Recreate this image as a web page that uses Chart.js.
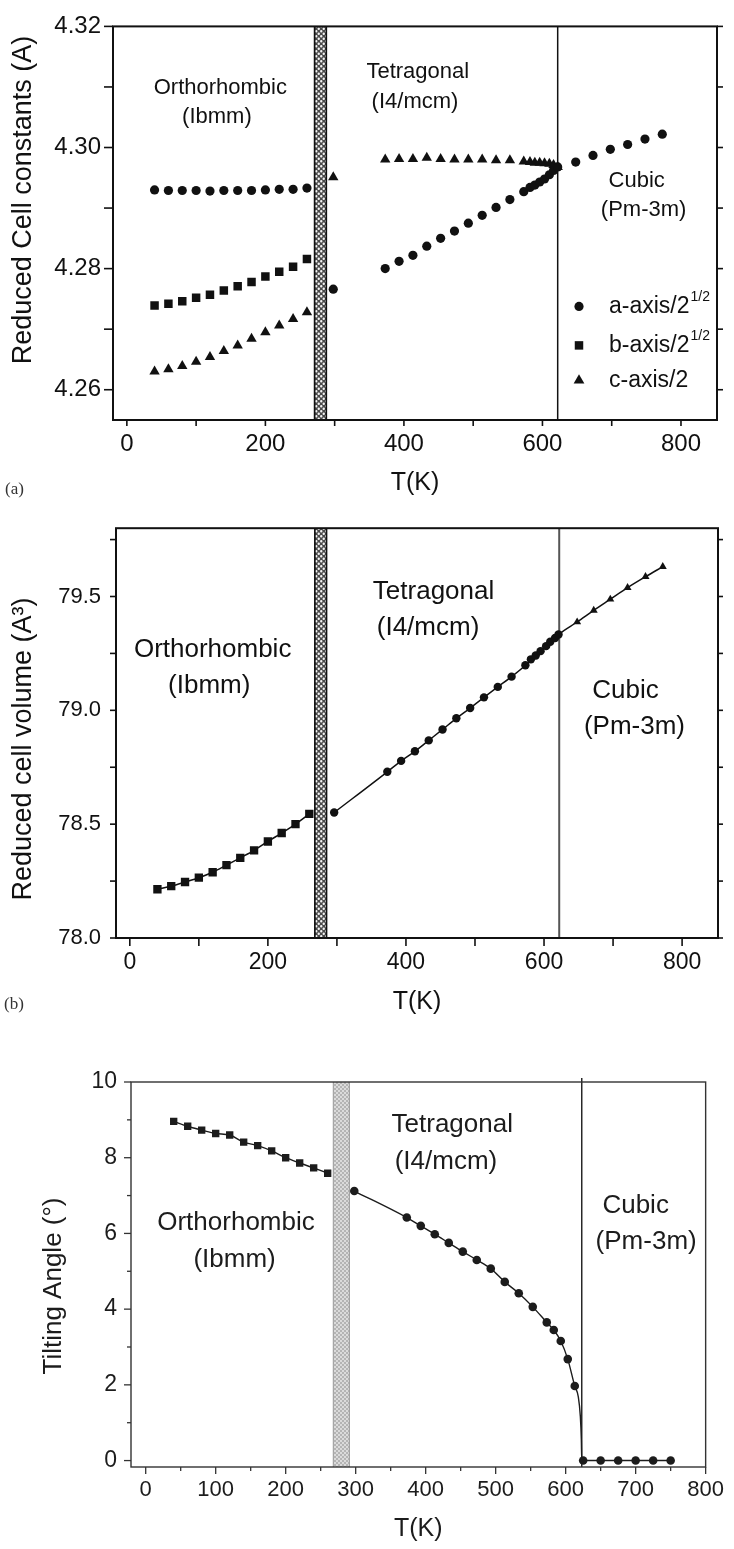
<!DOCTYPE html>
<html>
<head>
<meta charset="utf-8">
<title>Cell constants, volume and tilt angle vs T</title>
<script src="https://cdn.jsdelivr.net/npm/chart.js@4.4.1/dist/chart.umd.min.js"></script>
<style>
  body { margin: 0; background: #fff; }
  .panel { position: absolute; left: 0; }
</style>
</head>
<body>
<canvas id="cellChart" class="panel" width="734" height="500" style="top:0"></canvas>
<canvas id="volChart" class="panel" width="734" height="520" style="top:500px"></canvas>
<canvas id="tiltChart" class="panel" width="734" height="529" style="top:1020px"></canvas>
<script>
// temperatures (K)
const orthoT = [40, 60, 80, 100, 120, 140, 160, 180, 200, 220, 240, 260];
const roomT = [298];
const tetraT = [373, 393, 413, 433, 453, 473, 493, 513, 533, 553, 573, 582, 589, 596, 603, 610, 616, 622];
const cubicT = [648, 673, 698, 723, 748, 773];

// (a) reduced cell constants
const aOrtho = [4.2930, 4.2929, 4.2929, 4.2929, 4.2928, 4.2929, 4.2929, 4.2929, 4.2930, 4.2931, 4.2931, 4.2933];
const bOrtho = [4.2739, 4.2742, 4.2746, 4.2752, 4.2757, 4.2764, 4.2771, 4.2778, 4.2787, 4.2795, 4.2803, 4.2816];
const cOrtho = [4.2630, 4.2634, 4.2639, 4.2646, 4.2654, 4.2664, 4.2673, 4.2684, 4.2695, 4.2706, 4.2717, 4.2728];
const aRoom = [4.2766];
const cRoom = [4.2951];
const aTetra = [4.2800, 4.2812, 4.2822, 4.2837, 4.2850, 4.2862, 4.2875, 4.2888, 4.2901, 4.2914, 4.2927, 4.2934, 4.2938, 4.2943, 4.2948, 4.2955, 4.2962, 4.2968];
const cTetra = [4.2980, 4.2981, 4.2981, 4.2983, 4.2981, 4.2980, 4.2980, 4.2980, 4.2979, 4.2979, 4.2977, 4.2976, 4.2975, 4.2975, 4.2974, 4.2973, 4.2971, 4.2968];
const aCubic = [4.2976, 4.2987, 4.2997, 4.3005, 4.3014, 4.3022];

// (b) reduced cell volume
const volOrtho = [78.214, 78.228, 78.246, 78.265, 78.289, 78.320, 78.352, 78.385, 78.424, 78.461, 78.500, 78.545];
const volTetraT = [296, 373, 393, 413, 433, 453, 473, 493, 513, 533, 553, 573, 581, 588, 595, 603, 609, 616, 621];
const volTetra = [78.551, 78.730, 78.778, 78.820, 78.868, 78.916, 78.965, 79.010, 79.057, 79.103, 79.148, 79.198, 79.224, 79.241, 79.260, 79.282, 79.301, 79.318, 79.333];
const volCubicT = [648, 672, 696, 721, 747, 772];
const volCubic = [79.388, 79.439, 79.488, 79.539, 79.587, 79.631];

// (c) tilting angle
const tiltOrtho = [8.96, 8.83, 8.73, 8.64, 8.60, 8.41, 8.32, 8.18, 8.00, 7.86, 7.73, 7.59];
const tiltTetraT = [298, 373, 393, 413, 433, 453, 473, 493, 513, 533, 553, 573, 583, 593, 603, 613];
const tiltTetra = [7.12, 6.42, 6.20, 5.98, 5.75, 5.52, 5.30, 5.07, 4.72, 4.42, 4.06, 3.65, 3.45, 3.16, 2.68, 1.97];
const tiltCubicT = [625, 650, 675, 700, 725, 750];
const tiltCubic = [0, 0, 0, 0, 0, 0];
// fitted curve where it drops to zero at Tc
const tiltTailT = [618, 621, 622.4, 623];
const tiltTail = [1.69, 1.16, 0.55, 0];

// phase boundaries: two-phase band and cubic transition
const bandA = [271, 288], bandB = [268, 285], bandC = [268, 291];
const tcA = 622, tcB = 622, tcC = 623;

// ticks
const tTicks = [0, 200, 400, 600, 800], tMinor = [100, 300, 500, 700];
const tTicksC = [0, 100, 200, 300, 400, 500, 600, 700, 800];
const tMinorC = [50, 150, 250, 350, 450, 550, 650, 750];
const cellTicks = [4.26, 4.28, 4.30, 4.32], cellMinor = [4.27, 4.29, 4.31];
const volTicks = [78.0, 78.5, 79.0, 79.5], volMinor = [78.25, 78.75, 79.25, 79.75];
const tiltTicks = [0, 2, 4, 6, 8, 10], tiltMinor = [1, 3, 5, 7, 9];

const phaseNames = ['Orthorhombic', '(Ibmm)', 'Tetragonal', '(I4/mcm)', 'Cubic', '(Pm-3m)'];
const cellNames = ['a-axis/2', 'b-axis/2', 'c-axis/2'];
const cellSup = ['1/2', '1/2', ''];

const SANS = "'Liberation Sans', Arial, Helvetica, sans-serif";
Chart.defaults.font.family = SANS;
Chart.defaults.color = '#111';
Chart.defaults.animation = false;
Chart.defaults.events = [];
Chart.defaults.plugins.legend.display = false;
Chart.defaults.plugins.tooltip.enabled = false;

const pts = (xs, ys) => xs.map((x, i) => ({x, y: ys[i]}));

function marks(xs, ys, style, r, color) {
  return {
    data: pts(xs, ys), showLine: false, pointStyle: style, pointRadius: r,
    backgroundColor: color || '#111', borderColor: color || '#111', borderWidth: 0
  };
}

function curve(xs, ys, width, color) {
  return {
    data: pts(xs, ys), showLine: true, pointRadius: 0, borderWidth: width,
    borderColor: color || '#111', cubicInterpolationMode: 'monotone'
  };
}

function xAxis(min, max, major, h, size, pad, titleSize, titlePad, color) {
  return {
    type: 'linear', min, max,
    afterBuildTicks: s => { s.ticks = major.map(v => ({value: v})); },
    afterFit: s => { s.height = h; },
    grid: {display: false, drawTicks: false}, border: {display: false},
    ticks: {font: {size}, padding: pad, autoSkip: false, maxRotation: 0, color: color || '#111'},
    title: {display: true, text: 'T(K)', color: color || '#111', font: {size: titleSize}, padding: {top: 0, bottom: titlePad}}
  };
}

function yAxis(min, max, major, w, size, pad, fmt, color) {
  return {
    type: 'linear', min, max,
    afterBuildTicks: s => { s.ticks = major.map(v => ({value: v})); },
    afterFit: s => { s.width = w; },
    grid: {display: false, drawTicks: false}, border: {display: false},
    ticks: {font: {size}, padding: pad, autoSkip: false, color: color || '#111', callback: fmt}
  };
}

function dotTile(bg, dot, size, r) {
  const c = document.createElement('canvas');
  c.width = c.height = size;
  const g = c.getContext('2d');
  g.fillStyle = bg;
  g.fillRect(0, 0, size, size);
  g.fillStyle = dot;
  g.beginPath();
  g.arc(size * 0.25, size * 0.25, r, 0, Math.PI * 2);
  g.arc(size * 0.75, size * 0.75, r, 0, Math.PI * 2);
  g.fill();
  return c;
}

function marker(ctx, style, x, y, r) {
  ctx.beginPath();
  if (style === 'circle') {
    ctx.arc(x, y, r, 0, Math.PI * 2);
  } else if (style === 'rect') {
    const s = r * Math.SQRT1_2;
    ctx.rect(x - s, y - s, 2 * s, 2 * s);
  } else {
    ctx.moveTo(x, y - r);
    ctx.lineTo(x + r * 0.866, y + r / 2);
    ctx.lineTo(x - r * 0.866, y + r / 2);
    ctx.closePath();
  }
  ctx.fill();
}

const phasePlugin = {
  id: 'phase',
  beforeDatasetsDraw(chart, args, o) {
    if (!o.band) return;
    const {ctx, chartArea: a, scales: {x, y}} = chart;
    ctx.save();
    // two-phase region
    const b0 = x.getPixelForValue(o.band[0]), b1 = x.getPixelForValue(o.band[1]);
    ctx.fillStyle = ctx.createPattern(dotTile(o.bandFill, o.bandDot, o.tile, o.dotR), 'repeat');
    ctx.fillRect(b0, a.top, b1 - b0, a.bottom - a.top);
    ctx.strokeStyle = o.bandEdge;
    ctx.lineWidth = o.bandEdgeWidth;
    [b0, b1].forEach(p => {
      ctx.beginPath(); ctx.moveTo(p, a.top); ctx.lineTo(p, a.bottom); ctx.stroke();
    });
    // tetragonal -> cubic transition
    const tc = x.getPixelForValue(o.tc);
    ctx.strokeStyle = o.tcColor;
    ctx.lineWidth = o.tcWidth;
    ctx.beginPath(); ctx.moveTo(tc, a.top - (o.tcOver || 0)); ctx.lineTo(tc, a.bottom); ctx.stroke();
    // phase names
    ctx.fillStyle = o.textColor;
    ctx.font = o.labelFont;
    ctx.textAlign = 'center';
    ctx.textBaseline = 'middle';
    o.labels.forEach((p, i) => ctx.fillText(phaseNames[i], x.getPixelForValue(p[0]), y.getPixelForValue(p[1])));
    ctx.restore();
  },
  afterDatasetsDraw(chart, args, o) {
    if (!o.band) return;
    const {ctx, chartArea: a, scales: {x, y}} = chart;
    ctx.save();
    ctx.strokeStyle = o.frameColor;
    ctx.lineWidth = o.frameWidth;
    ctx.strokeRect(a.left, a.top, a.right - a.left, a.bottom - a.top);

    // outward tick marks
    ctx.lineWidth = o.tickWidth;
    const seg = (x0, y0, x1, y1) => { ctx.beginPath(); ctx.moveTo(x0, y0); ctx.lineTo(x1, y1); ctx.stroke(); };
    const [xMaj, xMin] = o.xTicks, [yMaj, yMin] = o.yTicks;
    xMaj.forEach(v => { const p = x.getPixelForValue(v); seg(p, a.bottom, p, a.bottom + o.xLen[0]); });
    xMin.forEach(v => { const p = x.getPixelForValue(v); seg(p, a.bottom, p, a.bottom + o.xLen[1]); });
    yMaj.forEach(v => {
      const p = y.getPixelForValue(v);
      seg(a.left - o.yLen[0], p, a.left, p);
      if (o.rightTicks) seg(a.right, p, a.right + o.rightTicks[0], p);
    });
    yMin.forEach(v => {
      const p = y.getPixelForValue(v);
      seg(a.left - o.yLen[1], p, a.left, p);
      if (o.rightTicks) seg(a.right, p, a.right + o.rightTicks[1], p);
    });

    // y-axis title
    ctx.fillStyle = o.textColor;
    ctx.font = o.yTitle.font;
    ctx.textAlign = 'center';
    ctx.textBaseline = 'middle';
    ctx.save();
    ctx.translate(o.yTitle.x, o.yTitle.y);
    ctx.rotate(-Math.PI / 2);
    ctx.fillText(o.yTitle.text, 0, 0);
    ctx.restore();

    // panel tag
    if (o.tag) {
      ctx.font = "17px 'Liberation Serif', 'Times New Roman', serif";
      ctx.fillStyle = '#333';
      ctx.textAlign = 'left';
      ctx.fillText(o.tag.text, o.tag.x, o.tag.y);
    }

    // legend
    if (o.legend) {
      const L = o.legend;
      ctx.fillStyle = '#111';
      L.styles.forEach((st, i) => {
        const yy = a.top + L.rows[i];
        marker(ctx, st, a.right + L.mx, yy, L.radii[i]);
        ctx.font = L.font;
        ctx.textAlign = 'left';
        ctx.fillText(cellNames[i], a.right + L.tx, yy);
        if (cellSup[i]) {
          const w = ctx.measureText(cellNames[i]).width;
          ctx.font = L.supFont;
          ctx.fillText(cellSup[i], a.right + L.tx + w + 1, yy - 9);
        }
      });
    }
    ctx.restore();
  }
};
Chart.register(phasePlugin);

// (a) reduced cell constants
new Chart(document.getElementById('cellChart'), {
  type: 'scatter',
  data: {
    datasets: [
      marks(orthoT, aOrtho, 'circle', 4.6),
      marks(orthoT, bOrtho, 'rect', 6),
      marks(orthoT, cOrtho, 'triangle', 6),
      marks(roomT, aRoom, 'circle', 4.6),
      marks(roomT, cRoom, 'triangle', 6),
      marks(tetraT, aTetra, 'circle', 4.6),
      marks(tetraT, cTetra, 'triangle', 6),
      marks(cubicT, aCubic, 'circle', 4.6)
    ]
  },
  options: {
    responsive: false,
    layout: {padding: {top: 18, right: 17, bottom: 0, left: 0}},
    scales: {
      x: xAxis(-20, 852, tTicks, 80, 24, 10, 25, 2),
      y: yAxis(4.255, 4.32, cellTicks, 113, 24, 12, v => v.toFixed(2))
    },
    plugins: {
      phase: {
        band: bandA, bandFill: '#4a4a4a', bandDot: '#f4f4f4', tile: 5, dotR: 1.2,
        bandEdge: '#111', bandEdgeWidth: 1.6,
        tc: tcA, tcColor: '#111', tcWidth: 1.5,
        textColor: '#111', labelFont: `22px ${SANS}`,
        labels: [[135, 4.3098], [130, 4.3051], [420, 4.3125], [416, 4.3076], [736, 4.2945], [746, 4.2897]],
        frameColor: '#111', frameWidth: 2, tickWidth: 1.6,
        xTicks: [tTicks, tMinor], xLen: [6, 6],
        yTicks: [cellTicks, cellMinor], yLen: [9, 9], rightTicks: [6, 6],
        yTitle: {text: 'Reduced Cell constants (A)', x: 24, y: 200, font: `27px ${SANS}`},
        tag: {text: '(a)', x: 5, y: 490},
        legend: {
          styles: ['circle', 'rect', 'triangle'], radii: [4.6, 6, 6.2],
          mx: -138, tx: -108, rows: [280, 319, 354],
          font: `23px ${SANS}`, supFont: `14px ${SANS}`
        }
      }
    }
  }
});

// (b) reduced cell volume
new Chart(document.getElementById('volChart'), {
  type: 'scatter',
  data: {
    datasets: [
      marks(orthoT, volOrtho, 'rect', 5.9),
      marks(volTetraT, volTetra, 'circle', 4.2),
      marks(volCubicT, volCubic, 'triangle', 4.6),
      curve(orthoT, volOrtho, 1.5),
      curve(volTetraT.concat(volCubicT), volTetra.concat(volCubic), 1.5)
    ]
  },
  options: {
    responsive: false,
    layout: {padding: {top: 21, right: 16, bottom: 0, left: 0}},
    scales: {
      x: xAxis(-20, 852, tTicks, 82, 23, 11, 25, 3),
      y: yAxis(78.0, 79.8, volTicks, 116, 22, 15, v => v.toFixed(1))
    },
    plugins: {
      phase: {
        band: bandB, bandFill: '#4a4a4a', bandDot: '#f4f4f4', tile: 5, dotR: 1.2,
        bandEdge: '#111', bandEdgeWidth: 1.6,
        tc: tcB, tcColor: '#555', tcWidth: 2,
        textColor: '#111', labelFont: `26px ${SANS}`,
        labels: [[120, 79.267], [115, 79.108], [440, 79.52], [432, 79.362], [718, 79.086], [731, 78.926]],
        frameColor: '#111', frameWidth: 2, tickWidth: 1.6,
        xTicks: [tTicks, tMinor], xLen: [8, 8],
        yTicks: [volTicks, volMinor], yLen: [6, 6], rightTicks: [5, 5],
        yTitle: {text: 'Reduced cell volume (A\u00b3)', x: 24, y: 249, font: `27px ${SANS}`},
        tag: {text: '(b)', x: 4, y: 505}
      }
    }
  }
});

// (c) tilting angle
const ink = '#1c1c1c';
new Chart(document.getElementById('tiltChart'), {
  type: 'scatter',
  data: {
    datasets: [
      marks(orthoT, tiltOrtho, 'rect', 5.2, ink),
      marks(tiltTetraT, tiltTetra, 'circle', 4.3, ink),
      marks(tiltCubicT, tiltCubic, 'circle', 4.3, ink),
      curve(orthoT, tiltOrtho, 1.4, ink),
      curve(tiltTetraT.concat(tiltTailT, tiltCubicT), tiltTetra.concat(tiltTail, tiltCubic), 1.4, ink)
    ]
  },
  options: {
    responsive: false,
    layout: {padding: {top: 62, right: 21, bottom: 0, left: 0}},
    scales: {
      x: xAxis(-21, 800, tTicksC, 82, 22, 10, 25, 5, ink),
      y: yAxis(-0.17, 10, tiltTicks, 131, 23, 14, v => String(v), ink)
    },
    plugins: {
      phase: {
        band: bandC, bandFill: '#b4b4b4', bandDot: '#e8e8e8', tile: 4, dotR: 1,
        bandEdge: '#9a9a9a', bandEdgeWidth: 1,
        tc: tcC, tcColor: ink, tcWidth: 1.4, tcOver: 4,
        textColor: ink, labelFont: `26px ${SANS}`,
        labels: [[129, 6.28], [127, 5.31], [438, 8.87], [429, 7.90], [700, 6.74], [715, 5.77]],
        frameColor: '#333', frameWidth: 1.4, tickWidth: 1.3,
        xTicks: [tTicksC, tMinorC], xLen: [7, 4],
        yTicks: [tiltTicks, tiltMinor], yLen: [7, 4],
        yTitle: {text: 'Tilting Angle (\u00b0)', x: 54, y: 266, font: `26px ${SANS}`}
      }
    }
  }
});
</script>
</body>
</html>
